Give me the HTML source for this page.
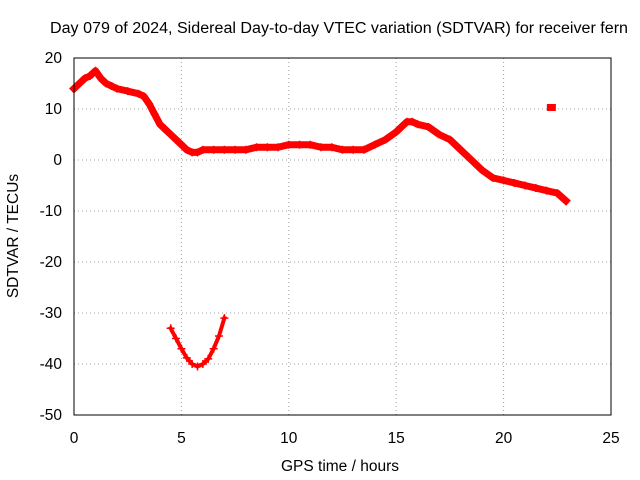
<!DOCTYPE html>
<html><head><meta charset="utf-8"><style>
body{margin:0;background:#fff;}
svg{display:block;font-family:"Liberation Sans",sans-serif;font-size:15.5px;}
</style></head><body>
<svg id="chart" width="640" height="480">
<text x="339" y="33" text-anchor="middle" textLength="578" lengthAdjust="spacingAndGlyphs">Day 079 of 2024, Sidereal Day-to-day VTEC variation (SDTVAR) for receiver fern</text>
<text x="340" y="471" text-anchor="middle">GPS time / hours</text>
<text transform="translate(18,236) rotate(-90)" text-anchor="middle">SDTVAR / TECUs</text>
<g id="grid"></g><g id="ticks"></g><g id="marks"></g>
<rect x="74" y="58" width="537" height="357" fill="none" stroke="#000" stroke-width="1"/>
</svg>
<script>
const xTicks=[0,5,10,15,20,25];
const yTicks=[20,10,0,-10,-20,-30,-40,-50];
const mainTimes=[0,0.25,0.5,0.75,1.0,1.25,1.5,1.75,2,2.5,3,3.25,3.5,3.75,4,4.25,4.5,4.75,5,5.25,5.5,5.75,6,6.5,7,7.5,8,8.5,9,9.5,10,10.5,11,11.5,12,12.5,13,13.5,14,14.5,15,15.25,15.5,15.75,16,16.5,17,17.5,18,18.5,19,19.5,20,20.5,21,21.5,22,22.5,22.9];
const mainValues=[14,15,16,16.5,17.5,16,15,14.5,14,13.5,13,12.5,11,9,7,6,5,4,3,2,1.5,1.5,2,2,2,2,2,2.5,2.5,2.5,3,3,3,2.5,2.5,2,2,2,3,4,5.5,6.5,7.5,7.5,7,6.5,5,4,2,0,-2,-3.5,-4,-4.5,-5,-5.5,-6,-6.5,-8];
const arcTimes=[4.5,4.75,5,5.25,5.5,5.75,6,6.25,6.5,6.75,7];
const arcValues=[-33,-35,-37,-38.8,-40,-40.5,-40,-39,-37,-34.5,-31];
const outlierTimes=[22.2];
const outlierValues=[10.3];
const X=h=>74+h*537/25, Y=v=>58+(20-v)*357/70;
const NS='http://www.w3.org/2000/svg';
function mk(t,a,p){const e=document.createElementNS(NS,t);for(const k in a)e.setAttribute(k,a[k]);p.appendChild(e);return e;}
const grid=document.getElementById('grid'),ticks=document.getElementById('ticks'),marks=document.getElementById('marks');
xTicks.forEach(t=>{const x=X(t);
 if(t>0&&t<25){const g=mk('line',{x1:x,x2:x,y1:58,y2:415,stroke:'#a0a0a0','stroke-dasharray':'1,3'},grid);
 
 }
 const l=mk('text',{x:x,y:443,'text-anchor':'middle'},ticks);l.textContent=t;
 
 
});
yTicks.forEach(t=>{const y=Y(t);
 if(t<20&&t>-50){const g=mk('line',{x1:74,x2:611,y1:y,y2:y,stroke:'#a0a0a0','stroke-dasharray':'1,3'},grid);
 
 }
 const l=mk('text',{x:62,y:y+5,'text-anchor':'end'},ticks);l.textContent=t;
 
 
});
function series(ts,vs,name,w){
 const pts=ts.map((t,i)=>X(t)+','+Y(vs[i])).join(' ');
 const pl=mk('polyline',{points:pts,fill:'none',stroke:'#f00','stroke-width':w,'stroke-linejoin':'round','stroke-linecap':'square'},marks);
 
 
 ts.forEach((t,i)=>{const x=X(t),y=Y(vs[i]);
  const p=mk('path',{d:`M${x-4},${y}H${x+4}M${x},${y-4}V${y+4}`,stroke:'#f00','stroke-width':1.5},marks);
  
  
 });
}
series(mainTimes,mainValues,'main-series',7);
series(arcTimes,arcValues,'arc-series',4);
outlierTimes.forEach((t,i)=>{
 const r=mk('rect',{x:X(t)-4,y:Y(outlierValues[i])-3.5,width:9,height:7,fill:'#f00'},marks);
 
 
});
</script>
</body></html>
